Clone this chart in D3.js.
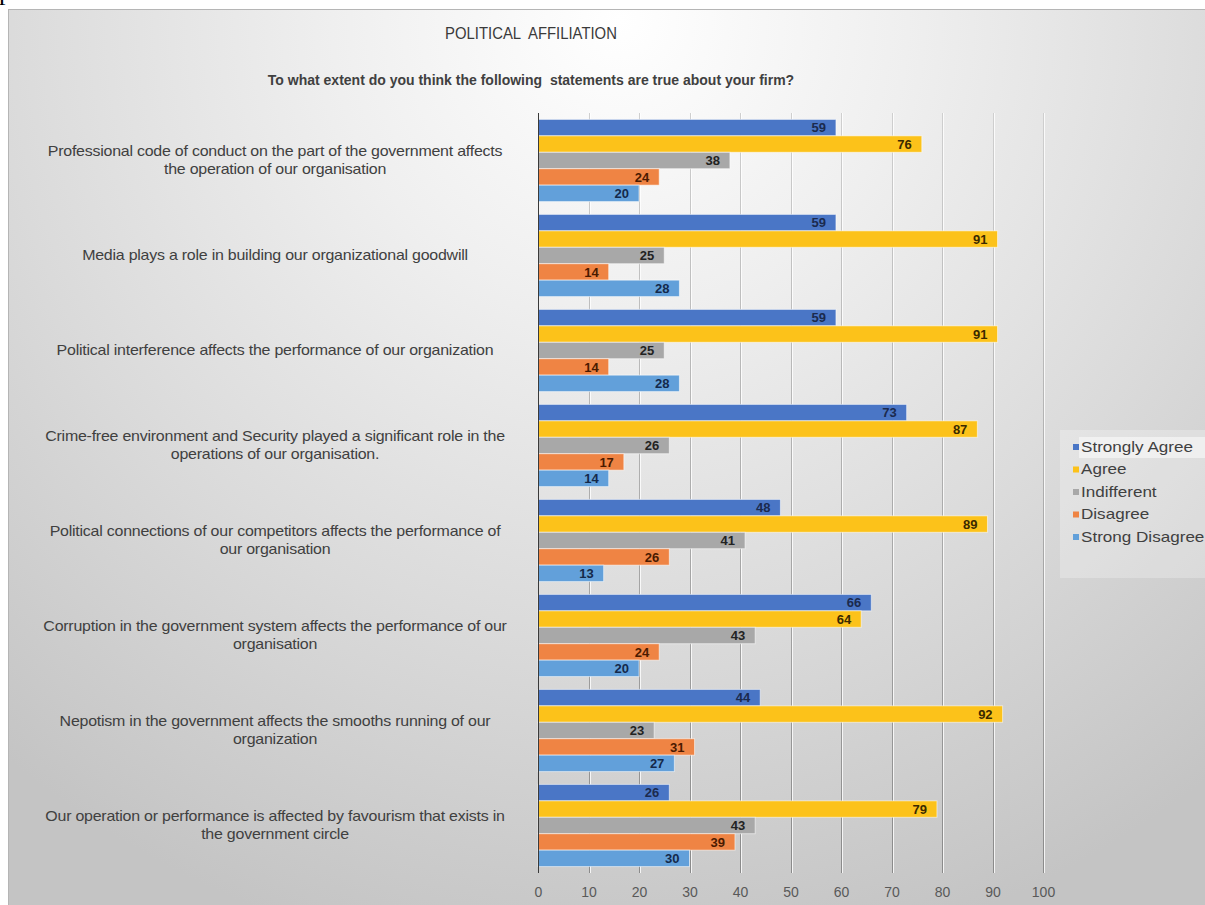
<!DOCTYPE html>
<html>
<head>
<meta charset="utf-8">
<script src="https://cdn.jsdelivr.net/npm/d3@7"></script>
<style>
  body { margin: 0; background: #fff; }
  svg { display: block; }
</style>
</head>
<body>
<script>
// statements (categories), two lines each where the original wraps
const statements = [
  ["Professional code of conduct on the part of the government affects", "the operation of our organisation"],
  ["Media plays a role in building our organizational goodwill"],
  ["Political interference affects the performance of our organization"],
  ["Crime-free environment and Security played a significant role in the", "operations of our organisation."],
  ["Political connections of our competitors affects the performance of", "our organisation"],
  ["Corruption in the government system affects the performance of our", "organisation"],
  ["Nepotism in the government affects the smooths running of our", "organization"],
  ["Our operation or performance is affected by favourism that exists in", "the government circle"]
];
const series = ["Strongly Agree", "Agree", "Indifferent", "Disagree", "Strong Disagree"];
const stronglyAgree  = [59, 59, 59, 73, 48, 66, 44, 26];
const agree          = [76, 91, 91, 87, 89, 64, 92, 79];
const indifferent    = [38, 25, 25, 26, 41, 43, 23, 43];
const disagree       = [24, 14, 14, 17, 26, 24, 31, 39];
const strongDisagree = [20, 28, 28, 14, 13, 20, 27, 30];
const xTicks = [0, 10, 20, 30, 40, 50, 60, 70, 80, 90, 100];

const colors = ["#4a76c6", "#fcc21a", "#a8a8a8", "#ef8444", "#62a0da"];
const labelColors = ["#1b2a4e", "#3a2a00", "#222222", "#4a1a00", "#14294a"];

const values = [stronglyAgree, agree, indifferent, disagree, strongDisagree];
const width = 1205, height = 905;
const font = "Liberation Sans, Arial, sans-serif";

const svg = d3.select("body").append("svg")
    .attr("width", width)
    .attr("height", height)
    .attr("viewBox", [0, 0, width, height]);

const defs = svg.append("defs");
const grad = defs.append("radialGradient")
    .attr("id", "bg")
    .attr("gradientUnits", "userSpaceOnUse")
    .attr("cx", 620).attr("cy", 20).attr("r", 960);
grad.append("stop").attr("offset", 0).attr("stop-color", "#ffffff");
grad.append("stop").attr("offset", 0.3).attr("stop-color", "#efefef");
grad.append("stop").attr("offset", 0.65).attr("stop-color", "#dadada");
grad.append("stop").attr("offset", 1).attr("stop-color", "#c4c4c4");

// gridlines fade out towards the top
const gridGrad = defs.append("linearGradient")
    .attr("id", "gridgrad")
    .attr("gradientUnits", "userSpaceOnUse")
    .attr("x1", 0).attr("y1", 113).attr("x2", 0).attr("y2", 873);
gridGrad.append("stop").attr("offset", 0).attr("stop-color", "#cfcfcf");
gridGrad.append("stop").attr("offset", 1).attr("stop-color", "#8a8a8a");

// cropped line of the surrounding document (only its lowest part is in view)
svg.append("text")
    .attr("x", -1).attr("y", 0)
    .attr("font-family", "Liberation Serif, serif")
    .attr("font-size", 26)
    .attr("fill", "#000")
    .text("performance.");

// chart area
svg.append("rect")
    .attr("x", 8.5).attr("y", 9.5)
    .attr("width", width).attr("height", height)
    .attr("fill", "url(#bg)")
    .attr("stroke", "#b5b5b5");

const x = d3.scaleLinear([0, 100], [538, 1043]);
const y = d3.scaleBand(d3.range(statements.length), [113, 873])
    .paddingInner(0.135).paddingOuter(0.0675);
const ySub = d3.scaleBand(series, [0, y.bandwidth()]);

// titles
svg.append("text")
    .attr("transform", "translate(531,39) scale(0.93,1)")
    .attr("text-anchor", "middle")
    .attr("font-family", font)
    .attr("font-size", 16)
    .attr("fill", "#3a3a3a")
    .attr("style", "white-space: pre")
    .text("POLITICAL  AFFILIATION");

svg.append("text")
    .attr("x", 531).attr("y", 85)
    .attr("text-anchor", "middle")
    .attr("font-family", font)
    .attr("font-size", 14)
    .attr("font-weight", "bold")
    .attr("fill", "#404040")
    .attr("style", "white-space: pre")
    .text("To what extent do you think the following  statements are true about your firm?");

// gridlines
const grid = svg.append("g");
grid.selectAll("line.w")
  .data(xTicks.slice(1))
  .join("line")
    .attr("class", "w")
    .attr("x1", d => Math.round(x(d)) + 1.5).attr("x2", d => Math.round(x(d)) + 1.5)
    .attr("y1", 113).attr("y2", 873)
    .attr("stroke", "#ffffff").attr("stroke-opacity", 0.8);
grid.selectAll("line.g")
  .data(xTicks.slice(1))
  .join("line")
    .attr("class", "g")
    .attr("x1", d => Math.round(x(d)) + 0.5).attr("x2", d => Math.round(x(d)) + 0.5)
    .attr("y1", 113).attr("y2", 873)
    .attr("stroke", "url(#gridgrad)");

// bars
const rows = svg.append("g")
  .selectAll("g")
  .data(statements.map((s, i) => i))
  .join("g")
    .attr("transform", i => `translate(0,${y(i)})`);

rows.selectAll("rect")
  .data(i => series.map((s, j) => ({s, j, v: values[j][i]})))
  .join("rect")
    .attr("x", x(0))
    .attr("y", d => ySub(d.s))
    .attr("width", d => x(d.v) - x(0))
    .attr("height", ySub.bandwidth())
    .attr("fill", d => colors[d.j])
    .attr("stroke", "#ffffff")
    .attr("stroke-opacity", 0.55)
    .attr("stroke-width", 1);

rows.selectAll("text")
  .data(i => series.map((s, j) => ({s, j, v: values[j][i]})))
  .join("text")
    .attr("x", d => x(d.v) - 10)
    .attr("y", d => ySub(d.s) + ySub.bandwidth() / 2)
    .attr("dy", "0.36em")
    .attr("text-anchor", "end")
    .attr("font-family", font)
    .attr("font-size", 13)
    .attr("font-weight", "bold")
    .attr("fill", d => labelColors[d.j])
    .text(d => d.v);

// y axis (category) line
svg.append("line")
    .attr("x1", 538.5).attr("x2", 538.5)
    .attr("y1", 113).attr("y2", 873)
    .attr("stroke", "#3a3a3a");

// category labels (the source picture is stretched a little sideways)
svg.append("g")
    .attr("transform", "translate(275,0) scale(1.14,1)")
  .selectAll("text")
  .data(statements)
  .join("text")
    .attr("x", 0)
    .attr("y", (d, i) => y(i) + y.bandwidth() / 2 - (d.length - 1) * 9)
    .attr("text-anchor", "middle")
    .attr("font-family", font)
    .attr("font-size", 14)
    .attr("letter-spacing", -0.2)
    .attr("fill", "#404040")
    .selectAll("tspan")
    .data(d => d)
    .join("tspan")
      .attr("x", 0)
      .attr("dy", (d, k) => k === 0 ? "0.35em" : 18)
      .text(d => d);

// x axis tick labels
const xAxis = d3.axisBottom(x).tickValues(xTicks).tickSize(0).tickPadding(14);
svg.append("g")
    .attr("transform", "translate(0,873)")
    .call(xAxis)
    .call(g => g.select(".domain").remove())
    .call(g => g.selectAll("text")
        .attr("font-family", font)
        .attr("font-size", 14)
        .attr("fill", "#595959"));

// legend
const legend = svg.append("g");
legend.append("rect")
    .attr("x", 1060).attr("y", 430)
    .attr("width", 150).attr("height", 148)
    .attr("fill", "#ffffff").attr("fill-opacity", 0.25);
legend.append("rect")
    .attr("x", 1079).attr("y", 437)
    .attr("width", 130).attr("height", 21)
    .attr("fill", "#ffffff").attr("fill-opacity", 0.5);
const item = legend.selectAll("g")
  .data(series)
  .join("g")
    .attr("transform", (d, i) => `translate(1073,${447 + i * 22.5})`);
item.append("rect")
    .attr("x", 0).attr("y", -3)
    .attr("width", 6).attr("height", 6)
    .attr("fill", (d, i) => colors[i]);
item.append("text")
    .attr("transform", "translate(8,0) scale(1.22,1)")
    .attr("dy", "0.35em")
    .attr("font-family", font)
    .attr("font-size", 14)
    .attr("fill", "#404040")
    .text(d => d);
</script>
</body>
</html>
